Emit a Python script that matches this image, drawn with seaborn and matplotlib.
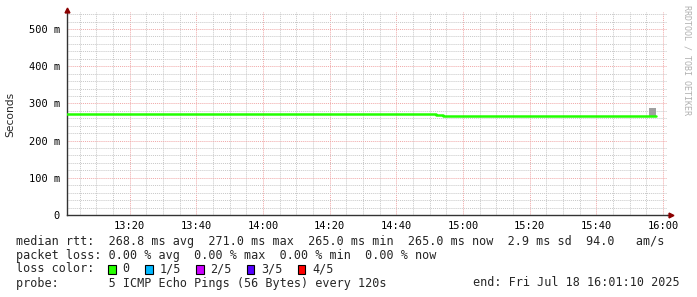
import matplotlib
matplotlib.use("Agg")
import matplotlib.pyplot as plt
import matplotlib.dates as mdates
from matplotlib.patches import Rectangle
from matplotlib.ticker import MultipleLocator, FuncFormatter
import seaborn as sns
import pandas as pd

# ---- data ----
rtt_times = ["2025-07-18 13:01:10", "2025-07-18 14:51:50", "2025-07-18 14:54:00", "2025-07-18 15:58:00"]
rtt_values = [271.0, 268.0, 265.5, 265.5]          # median rtt (ms)
smoke_times = ["2025-07-18 15:55:50", "2025-07-18 15:58:00"]
smoke_lo = [266.0, 266.0]
smoke_hi = [288.0, 288.0]
x_start = "2025-07-18 13:01:10"
x_end = "2025-07-18 16:01:10"
y_max = 545

loss_labels = ["0", "1/5", "2/5", "3/5", "4/5"]
loss_colors = ["#26ff00", "#00b8ff", "#cc00ff", "#5500ff", "#ff0000"]

legend_rows = [
    "median rtt:  268.8 ms avg  271.0 ms max  265.0 ms min  265.0 ms now  2.9 ms sd  94.0   am/s",
    "packet loss: 0.00 % avg  0.00 % max  0.00 % min  0.00 % now",
    "loss color:",
    "probe:       5 ICMP Echo Pings (56 Bytes) every 120s",
]
end_text = "end: Fri Jul 18 16:01:10 2025"
watermark = "RRDTOOL / TOBI OETIKER"

# ---- figure ----
sns.set_style("white")
plt.rcParams["font.family"] = ["DejaVu Sans Mono"]

W, H = 697, 297
fig = plt.figure(figsize=(W / 100, H / 100), dpi=100, facecolor="white")
ax = fig.add_axes([67 / W, (H - 215) / H, 600 / W, (215 - 12.3) / H])
ax.set_facecolor("white")

df = pd.DataFrame({"time": pd.to_datetime(rtt_times), "rtt": rtt_values})
sm = pd.DataFrame({"time": pd.to_datetime(smoke_times), "lo": smoke_lo, "hi": smoke_hi})

ax.fill_between(sm["time"], sm["lo"], sm["hi"], color="#a0a0a0", lw=0, zorder=3)
sns.lineplot(data=df, x="time", y="rtt", ax=ax, color="#22ff00", lw=1.8,
             drawstyle="steps-post", zorder=4)

ax.set_xlim(pd.Timestamp(x_start), pd.Timestamp(x_end))
ax.set_ylim(0, y_max)

ax.xaxis.set_major_locator(mdates.MinuteLocator(byminute=[0, 20, 40]))
ax.xaxis.set_minor_locator(mdates.MinuteLocator(byminute=range(0, 60, 5)))
ax.xaxis.set_major_formatter(mdates.DateFormatter("%H:%M"))
ax.yaxis.set_major_locator(MultipleLocator(100))
ax.yaxis.set_minor_locator(MultipleLocator(20))
ax.yaxis.set_major_formatter(FuncFormatter(lambda v, p: "0" if v == 0 else f"{int(v)} m"))

ax.grid(which="minor", color="#c8c8c8", ls=(0, (1, 1)), lw=0.7)
ax.grid(which="major", color="#f0a8a8", ls=(0, (1, 1)), lw=0.7)
ax.set_axisbelow(True)

ax.tick_params(axis="both", which="both", length=0, labelsize=7.5, colors="#000000")
ax.tick_params(axis="y", pad=5)
ax.tick_params(axis="x", pad=4.5)
ax.set_xlabel("")
ax.set_ylabel("")

for s in ["top", "right"]:
    ax.spines[s].set_visible(False)
ax.spines["left"].set_bounds(0, y_max * 1.01)
for s in ["left", "bottom"]:
    ax.spines[s].set_color("#333333")
    ax.spines[s].set_linewidth(1.0)

# extend x axis line to the arrow
ax.plot([1.0, 1.005], [0, 0], color="#333333", lw=1.0, transform=ax.transAxes, clip_on=False, zorder=5)
ax.plot([0], [1.01], marker="^", ms=3.5, color="#8b0000", transform=ax.transAxes, clip_on=False, zorder=6)
ax.plot([1.006], [0], marker=">", ms=3.5, color="#8b0000", transform=ax.transAxes, clip_on=False, zorder=6)

# y label
fig.text(10.5 / W, 1 - 114 / H, "Seconds", rotation=90, ha="center", va="center",
         fontsize=7.7, family=["DejaVu Sans"])

# watermark
fig.text(687 / W, 1 - 5 / H, watermark, rotation=270, ha="center", va="top",
         fontsize=6.0, color="#b0b0b0")

# legend rows
row_y = [241, 255, 269, 283]
fs = 8.45
cw = 0.602 * fs * 100 / 72
for txt, yy in zip(legend_rows, row_y):
    fig.text(16 / W, 1 - yy / H, txt, ha="left", va="center", fontsize=fs)
fig.text(680 / W, 1 - 283 / H, end_text, ha="right", va="center", fontsize=fs)

# loss colour boxes
bx = 108.3
for lab, col in zip(loss_labels, loss_colors):
    fig.patches.append(Rectangle((bx / W, 1 - 273.5 / H), 7.5 / W, 9 / H, facecolor=col,
                                 edgecolor="black", lw=0.8, transform=fig.transFigure))
    lx = bx + 14.4
    fig.text(lx / W, 1 - 269 / H, lab, ha="left", va="center", fontsize=fs)
    bx = lx + (len(lab) + 2) * cw + 1.2

fig.savefig("out.png", dpi=100, facecolor="white")
